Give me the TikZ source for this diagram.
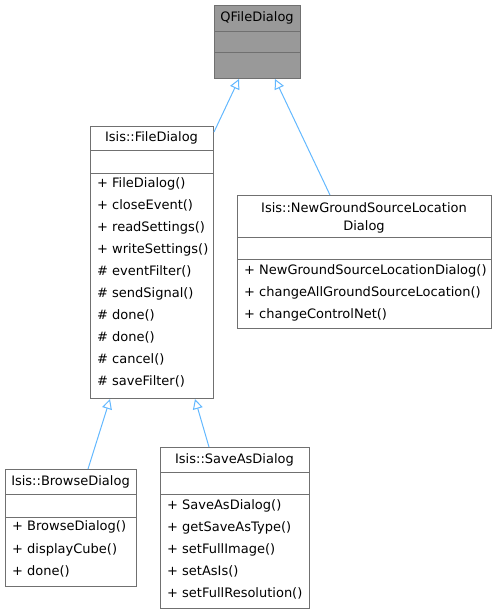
\documentclass[tikz,border=0pt]{standalone}
\usepackage{fontspec}
\setmainfont{DejaVu Sans}
\usetikzlibrary{arrows.meta,calc}
\definecolor{boxline}{HTML}{707070}
\definecolor{boxfill}{HTML}{999999}
\definecolor{edgeblue}{HTML}{63B8FF}
\tikzset{
  umlbox/.style={draw=boxline, line width=1pt, anchor=north west, inner sep=0pt, fill=white},
  sepline/.style={draw=boxline, line width=1pt},
  rowtxt/.style={anchor=west, inner sep=0pt, text height=9.5pt, text depth=3pt, font=\fontsize{13}{15}\selectfont},
  ttl/.style={anchor=center, inner sep=0pt, text height=9.5pt, text depth=3pt, font=\fontsize{13}{15}\selectfont},
  inh/.style={draw=edgeblue, line width=1pt, -{Triangle[open, length=10pt, width=10pt, fill=white]}},
}
\newcommand{\mbr}[2]{\makebox[15pt][l]{#1}#2}
\begin{document}
\begin{tikzpicture}[x=1pt,y=-1pt]
\useasboundingbox (0,0) rectangle (496,614);

% QFileDialog
\node[umlbox, fill=boxfill, minimum width=86pt, minimum height=73pt] (q) at (214,5) {};
\draw[sepline] (214,31) -- (300,31);
\draw[sepline] (214,52) -- (300,52);
\node[ttl] (qt) at (257,18) {QFileDialog};

% Isis::FileDialog
\node[umlbox, minimum width=123pt, minimum height=272pt] (fd) at (90,126) {};
\draw[sepline] (90,150) -- (213,150);
\draw[sepline] (90,173) -- (213,173);
\node[ttl] (fdt) at (151.5,138) {Isis::FileDialog};
\node[rowtxt] (fd1) at (97,184) {\mbr{+}{FileDialog()}};
\node[rowtxt] (fd2) at (97,206) {\mbr{+}{closeEvent()}};
\node[rowtxt] (fd3) at (97,228) {\mbr{+}{readSettings()}};
\node[rowtxt] (fd4) at (97,250) {\mbr{+}{writeSettings()}};
\node[rowtxt] (fd5) at (97,272) {\mbr{\#}{eventFilter()}};
\node[rowtxt] (fd6) at (97,294) {\mbr{\#}{sendSignal()}};
\node[rowtxt] (fd7) at (97,316) {\mbr{\#}{done()}};
\node[rowtxt] (fd8) at (97,338) {\mbr{\#}{done()}};
\node[rowtxt] (fd9) at (97,360) {\mbr{\#}{cancel()}};
\node[rowtxt] (fd10) at (97,382) {\mbr{\#}{saveFilter()}};

% Isis::NewGroundSourceLocationDialog
\node[umlbox, minimum width=254pt, minimum height=133pt] (ng) at (237,195) {};
\draw[sepline] (237,237) -- (491,237);
\draw[sepline] (237,259) -- (491,259);
\node[ttl] (ngt1) at (364,209) {Isis::NewGroundSourceLocation};
\node[ttl] (ngt2) at (364,227) {Dialog};
\node[rowtxt] (ng1) at (244,271) {\mbr{+}{NewGroundSourceLocationDialog()}};
\node[rowtxt] (ng2) at (244,293) {\mbr{+}{changeAllGroundSourceLocation()}};
\node[rowtxt] (ng3) at (244,315) {\mbr{+}{changeControlNet()}};

% Isis::BrowseDialog
\node[umlbox, minimum width=131pt, minimum height=117pt] (bd) at (5,469) {};
\draw[sepline] (5,494) -- (136,494);
\draw[sepline] (5,517) -- (136,517);
\node[ttl] (bdt) at (70.5,482) {Isis::BrowseDialog};
\node[rowtxt] (bd1) at (12,527) {\mbr{+}{BrowseDialog()}};
\node[rowtxt] (bd2) at (12,550) {\mbr{+}{displayCube()}};
\node[rowtxt] (bd3) at (12,572) {\mbr{+}{done()}};

% Isis::SaveAsDialog
\node[umlbox, minimum width=149pt, minimum height=161pt] (sa) at (160,447) {};
\draw[sepline] (160,472) -- (309,472);
\draw[sepline] (160,494) -- (309,494);
\node[ttl] (sat) at (234.5,460) {Isis::SaveAsDialog};
\node[rowtxt] (sa1) at (167,506) {\mbr{+}{SaveAsDialog()}};
\node[rowtxt] (sa2) at (167,528) {\mbr{+}{getSaveAsType()}};
\node[rowtxt] (sa3) at (167,550) {\mbr{+}{setFullImage()}};
\node[rowtxt] (sa4) at (167,572) {\mbr{+}{setAsIs()}};
\node[rowtxt] (sa5) at (167,594) {\mbr{+}{setFullResolution()}};

% inheritance connectors
\draw[inh] ($(fd.north east)+(0,6)$) -- ($(q.south west)+(25,0)$);
\draw[inh] ($(ng.north west)+(93,0)$) -- ($(q.south west)+(61,0)$);
\draw[inh] ($(bd.north west)+(83,0)$) -- ($(fd.south west)+(20,0)$);
\draw[inh] ($(sa.north west)+(49,0)$) -- ($(fd.south west)+(105,0)$);
\end{tikzpicture}
\end{document}
